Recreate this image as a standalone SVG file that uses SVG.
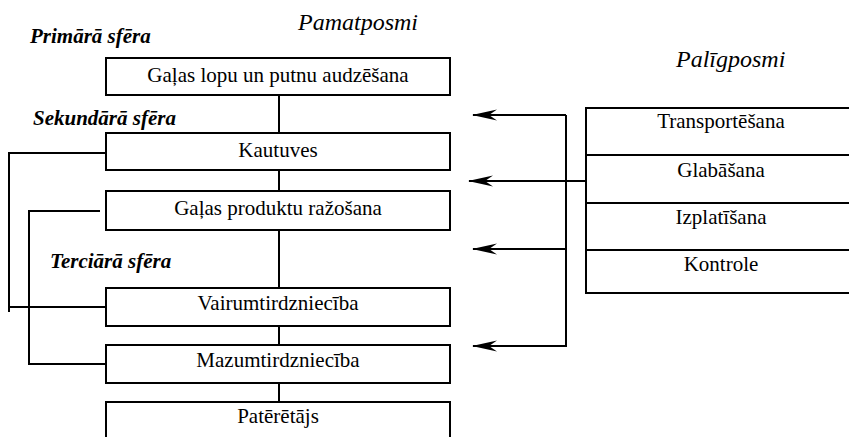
<svg xmlns="http://www.w3.org/2000/svg" width="849" height="437" viewBox="0 0 849 437">
<style>
.box{fill:#fff;stroke:#000;stroke-width:2}
.ln{fill:none;stroke:#000;stroke-width:2}
.t{font-family:'Liberation Serif','DejaVu Serif',serif;font-size:21px;fill:#000;text-anchor:middle}
.h{font-family:'Liberation Serif','DejaVu Serif',serif;font-size:24px;font-style:italic;fill:#000}
.s{font-family:'Liberation Serif','DejaVu Serif',serif;font-size:21px;font-style:italic;font-weight:bold;fill:#000}
</style>
<defs>
<marker id="arr" markerUnits="userSpaceOnUse" markerWidth="28" markerHeight="14" refX="27" refY="7" orient="auto" viewBox="0 0 28 14">
<path d="M28,7 L3,1.5 L11,7 L3,12.5 Z" fill="#000"/>
</marker>
</defs>
<rect width="849" height="437" fill="#fff"/>
<g id="labels">
<text class="h" x="298" y="30">Pamatposmi</text>
<text class="h" x="676" y="67">Palīgposmi</text>
<text class="s" x="30" y="43">Primārā sfēra</text>
<text class="s" x="33" y="125">Sekundārā sfēra</text>
<text class="s" x="50" y="268">Terciārā sfēra</text>
</g>
<g id="connectors">
<path class="ln" d="M279,95 V133 M279,171 V191 M279,230 V288 M279,326 V345 M279,383 V402"/>
<path class="ln" d="M106,153 H9 V312 M9,307 H106"/>
<path class="ln" d="M100,211 H29 V364 H106"/>
<path class="ln" d="M566,115 V346 H473" marker-end="url(#arr)"/>
<path class="ln" d="M566,115 H473" marker-end="url(#arr)"/>
<path class="ln" d="M587,181 H469" marker-end="url(#arr)"/>
<path class="ln" d="M566,249 H473" marker-end="url(#arr)"/>
</g>
<g id="n1"><rect class="box" x="106" y="58" width="344" height="37"/><text class="t" x="278" y="82">Gaļas lopu un putnu audzēšana</text></g>
<g id="n2"><rect class="box" x="106" y="133" width="344" height="37"/><text class="t" x="278" y="157">Kautuves</text></g>
<g id="n3"><rect class="box" x="106" y="191" width="344" height="39"/><text class="t" x="278" y="215">Gaļas produktu ražošana</text></g>
<g id="n4"><rect class="box" x="106" y="288" width="344" height="38"/><text class="t" x="278" y="310">Vairumtirdzniecība</text></g>
<g id="n5"><rect class="box" x="106" y="345" width="344" height="38"/><text class="t" x="278" y="367">Mazumtirdzniecība</text></g>
<g id="n6"><rect class="box" x="106" y="402" width="344" height="50"/><text class="t" x="278" y="423">Patērētājs</text></g>
<g id="n7"><rect class="box" x="586" y="108" width="280" height="47"/><text class="t" x="721" y="128">Transportēšana</text></g>
<g id="n8"><rect class="box" x="586" y="155" width="280" height="48"/><text class="t" x="721" y="177">Glabāšana</text></g>
<g id="n9"><rect class="box" x="586" y="203" width="280" height="47"/><text class="t" x="721" y="224">Izplatīšana</text></g>
<g id="n10"><rect class="box" x="586" y="250" width="280" height="43"/><text class="t" x="721" y="271">Kontrole</text></g>
</svg>
